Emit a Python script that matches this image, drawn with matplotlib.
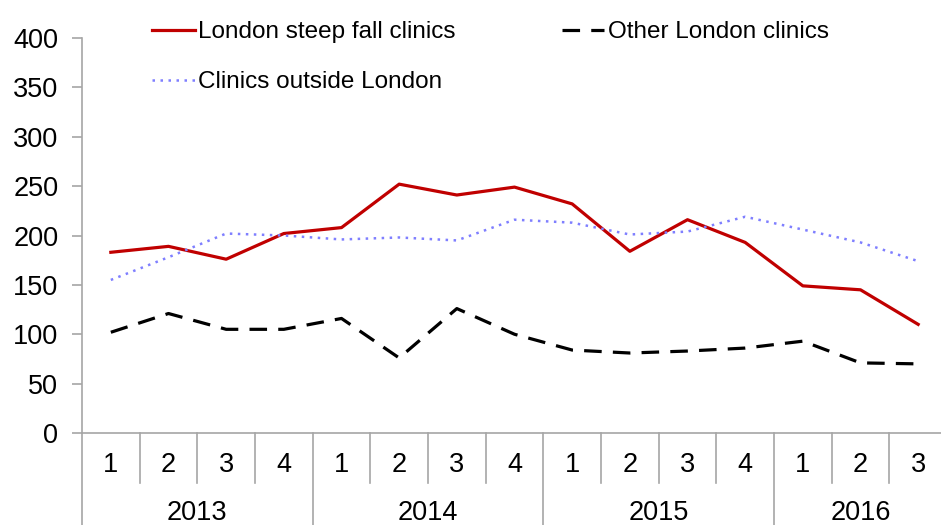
import numpy as np
import matplotlib.pyplot as plt

plt.rcParams['font.family'] = ['Liberation Sans', 'DejaVu Sans']

years = ['2013', '2014', '2015', '2016']
quarters = ['1', '2', '3', '4', '1', '2', '3', '4', '1', '2', '3', '4', '1', '2', '3']
steep_fall = [183, 189, 176, 202, 208, 252, 241, 249, 232, 184, 216, 193, 149, 145, 110]
other_london = [102, 121, 105, 105, 116, 76, 126, 100, 84, 81, 83, 86, 93, 71, 70]
outside_london = [155, 178, 202, 200, 196, 198, 195, 216, 213, 201, 204, 219, 206, 193, 174]

GREY = '#a6a6a6'
FS = 19.5

fig = plt.figure(figsize=(9.41, 5.25), dpi=100)
ax = fig.add_axes([82 / 941, 92 / 525, 865 / 941, 395 / 525])

x = np.arange(len(quarters))
ax.plot(x, steep_fall, color='#c00000', lw=2.3, label='London steep fall clinics')
ax.plot(x, outside_london, color='#7f7fff', lw=1.8, ls=(0, (1, 2.2)), label='Clinics outside London')
ax.plot(x, other_london, color='black', lw=2.3, ls=(0, (5.5, 3.5)), label='Other London clinics')

ax.set_xlim(-0.5, len(quarters) - 0.5)
ax.set_ylim(0, 400)
ax.set_yticks(np.arange(0, 401, 50))
ax.tick_params(axis='y', labelsize=FS, color=GREY, length=7, width=1.2, pad=10)
ax.set_xticks([])
for s in ['top', 'right']:
    ax.spines[s].set_visible(False)
for s in ['left', 'bottom']:
    ax.spines[s].set_color(GREY)
    ax.spines[s].set_linewidth(1.2)

# two-level category axis
tr = ax.get_xaxis_transform()
for i, q in enumerate(quarters):
    ax.text(i, -0.082, q, transform=tr, ha='center', va='center', fontsize=FS)
    if i > 0 and i % 4 != 0:
        ax.plot([i - 0.5, i - 0.5], [0, -0.127], transform=tr, color=GREY, lw=1.2, clip_on=False)
for j, yr in enumerate(years):
    start = j * 4
    end = min(start + 4, len(quarters))
    ax.text((start + end - 1) / 2, -0.203, yr, transform=tr, ha='center', va='center', fontsize=FS)
    ax.plot([start - 0.5, start - 0.5], [0, -0.25], transform=tr, color=GREY, lw=1.2, clip_on=False)

ax.legend(loc='upper left', bbox_to_anchor=(152 / 941, 1 - 21 / 525), bbox_transform=fig.transFigure,
          ncol=2, frameon=False, fontsize=17.5, handlelength=1.75, handletextpad=0.15,
          columnspacing=4.37, labelspacing=1.17, borderpad=0, borderaxespad=0)

fig.savefig('out.png', dpi=100)
